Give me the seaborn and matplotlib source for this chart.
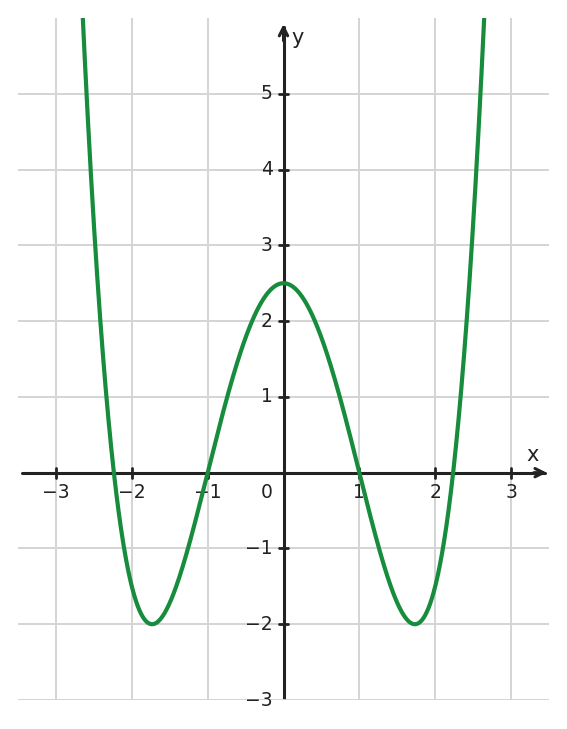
import numpy as np
import pandas as pd
import matplotlib
matplotlib.use("Agg")
import matplotlib.pyplot as plt
import seaborn as sns

# polynomial coefficients of the plotted function f(x) = 0.5x^4 - 3x^2 + 2.5 (highest power first)
coeffs = [0.5, 0.0, -3.0, 0.0, 2.5]
x_ticks = [-3, -2, -1, 1, 2, 3]
y_ticks = [-3, -2, -1, 1, 2, 3, 4, 5]
x_range = [-3.5, 3.5]
y_range = [-3.0, 6.0]

xs = np.linspace(-2.7, 2.7, 1200)
df = pd.DataFrame({"x": xs, "y": np.polyval(coeffs, xs)})

sns.set_style("white")
plt.rcParams['font.family'] = ['DejaVu Sans']

fig = plt.figure(figsize=(5.67, 7.29), dpi=100)
ax = fig.add_axes([18/567, 29/729, 531/567, 682/729])
ax.set_xlim(*x_range)
ax.set_ylim(*y_range)

grid_c = "#d4d4d4"
for xv in x_ticks:
    ax.axvline(xv, color=grid_c, lw=1.4, zorder=0)
for yv in y_ticks:
    ax.axhline(yv, color=grid_c, lw=1.4, zorder=0)

for s in ax.spines.values():
    s.set_visible(False)
ax.set_xticks([]); ax.set_yticks([])

axc = "#222222"
ax.plot([-3.45, 3.45], [0, 0], color=axc, lw=2.2, zorder=2)
ax.annotate("", xy=(3.47, 0), xytext=(3.3, 0),
            arrowprops=dict(arrowstyle="->,head_length=0.6,head_width=0.3", color=axc, lw=2.2,
                            shrinkA=0, shrinkB=0), zorder=2)
ax.plot([0, 0], [-3.0, 5.88], color=axc, lw=2.2, zorder=2)
ax.annotate("", xy=(0, 5.92), xytext=(0, 5.7),
            arrowprops=dict(arrowstyle="->,head_length=0.6,head_width=0.3", color=axc, lw=2.2,
                            shrinkA=0, shrinkB=0), zorder=2)

tl = 0.065
for xv in x_ticks:
    ax.plot([xv, xv], [-tl, tl], color=axc, lw=2.0, zorder=2)
    ax.text(xv, -0.14, "\u2212%d" % -xv if xv < 0 else str(xv), ha="center", va="top",
            fontsize=13.5, color=axc, zorder=2)
for yv in y_ticks:
    ax.plot([-tl, tl], [yv, yv], color=axc if yv != -3 else grid_c, lw=2.0, zorder=2)
    ax.text(-0.14, yv, "\u2212%d" % -yv if yv < 0 else str(yv), ha="right", va="center",
            fontsize=13.5, color=axc, zorder=2)
ax.text(-0.22, -0.14, "0", ha="center", va="top", fontsize=13.5, color=axc, zorder=2)
ax.text(3.29, 0.1, "x", ha="center", va="bottom", fontsize=15, color=axc)
ax.text(0.1, 5.74, "y", ha="left", va="center", fontsize=15, color=axc)

sns.lineplot(data=df, x="x", y="y", ax=ax, color="#168c3c", lw=3.0, zorder=5, sort=False)
ax.set_xlabel(""); ax.set_ylabel("")

fig.savefig("out.png", dpi=100)
